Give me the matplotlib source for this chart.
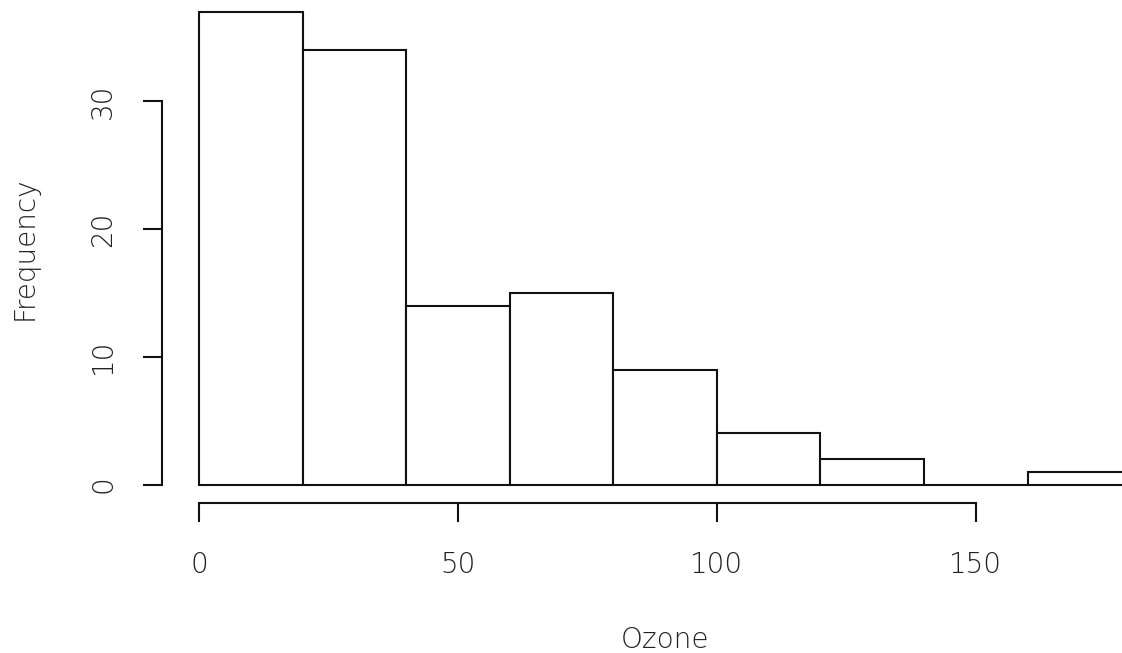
import numpy as np
import matplotlib
matplotlib.use("Agg")
import matplotlib.pyplot as plt

# --- data: histogram of Ozone ---
bin_edges = [0, 20, 40, 60, 80, 100, 120, 140, 160, 180]
counts = [37, 34, 14, 15, 9, 4, 2, 0, 1]
x_ticks = [0, 50, 100, 150]
y_ticks = [0, 10, 20, 30]
x_label = "Ozone"
y_label = "Frequency"

W, H = 1122, 653
plt.rcParams['font.family'] = ['DejaVu Sans']
plt.rcParams['font.weight'] = 'light'

fig = plt.figure(figsize=(W / 100, H / 100), dpi=100)
# plot region in pixels (R pads data range by 4%)
left_px, right_px = 161.7, 1168.5
bottom_px, top_px = 503.4, -6.9
ax = fig.add_axes([left_px / W, 1 - bottom_px / H,
                   (right_px - left_px) / W, (bottom_px - top_px) / H])

edges = np.array(bin_edges)
xmin, xmax = edges[0], edges[-1]
ymax = max(counts)
ax.set_xlim(xmin - 0.04 * (xmax - xmin), xmax + 0.04 * (xmax - xmin))
ax.set_ylim(-0.04 * ymax, ymax * 1.04)

lw = 1.5
ax.bar(edges[:-1], counts, width=np.diff(edges), align='edge',
       facecolor='white', edgecolor='#111111', linewidth=lw)

for s in ['top', 'right']:
    ax.spines[s].set_visible(False)
ax.spines['left'].set_bounds(y_ticks[0], y_ticks[-1])
ax.spines['bottom'].set_bounds(x_ticks[0], x_ticks[-1])
for s in ['left', 'bottom']:
    ax.spines[s].set_linewidth(lw)
    ax.spines[s].set_color('#111111')

text_color = '#222222'
ax.set_xticks(x_ticks)
ax.set_yticks(y_ticks)
ax.tick_params(axis='both', length=14, width=lw, labelsize=20,
               color='#111111', labelcolor=text_color)
ax.tick_params(axis='x', pad=20)
ax.tick_params(axis='y', pad=18, labelrotation=90)
for lab in ax.get_yticklabels():
    lab.set_va('center')

fig.text(((left_px + right_px) / 2) / W, 1 - 640 / H, x_label,
         ha='center', va='center', fontsize=20, color=text_color)
fig.text(25 / W, 1 - ((bottom_px + top_px) / 2) / H, y_label,
         ha='center', va='center', rotation=90, fontsize=20, color=text_color)

fig.savefig("out.png", dpi=100)
